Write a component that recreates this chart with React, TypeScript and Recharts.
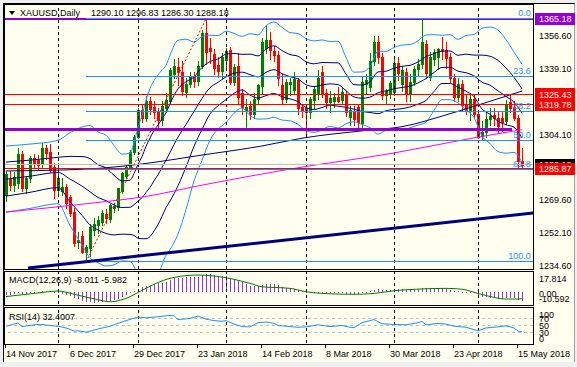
import React from "react";
import { Bar, ComposedChart, Line, ReferenceDot, ReferenceLine, XAxis, YAxis } from "recharts";

const BG = "#FFFFF0";
const BULL = "#008000";
const BEAR = "#FF0000";
const BAND_OUTER = "#1E90FF";
const BAND_INNER = "#000080";
const MAGENTA = "#FF00FF";
const PURPLE = "#9400D3";
const HIST = "#9932CC";
const FONT = "'Liberation Sans', Arial, sans-serif";

// daily bars: index 0 = 14 Nov 2017 ... index 129 = 16 May 2018
const opens = [
  1272, 1280.5, 1277.5, 1278.3, 1294, 1275.6, 1280.9, 1291.5, 1290.6, 1288.8,
  1296.7, 1295, 1287, 1274.7, 1274, 1276.5, 1271.2, 1263.3, 1247.4, 1250.5,
  1242.1, 1243.9, 1253.6, 1256, 1258, 1262, 1259.5, 1265, 1265.9, 1274,
  1282, 1287, 1295, 1303, 1317, 1313, 1322, 1318.5, 1316, 1311.7,
  1318, 1322, 1336, 1339.5, 1337, 1326.5, 1331, 1335, 1332.5, 1340.5,
  1357.5, 1349.5, 1346.5, 1341, 1337.5, 1343.5, 1348.5, 1332, 1340, 1326,
  1317, 1319, 1315, 1323, 1329.5, 1350, 1354, 1348, 1346, 1330,
  1323, 1330.5, 1327.5, 1332.8, 1318.5, 1318, 1316, 1322.5, 1326, 1337,
  1326, 1321, 1321.5, 1324, 1322.3, 1325, 1313.5, 1316, 1318.6, 1310,
  1331, 1329, 1343, 1353, 1345, 1325, 1326, 1326.5, 1342, 1331,
  1337, 1326, 1332, 1338.5, 1341.5, 1352, 1334.5, 1344, 1345, 1349,
  1348.7, 1345, 1334, 1323.9, 1331, 1320, 1317, 1323, 1315, 1303,
  1305.5, 1312, 1314.5, 1313, 1313, 1311, 1321, 1318.5, 1313, 1290.1,
];
const highs = [
  1285, 1285, 1284, 1296.7, 1295.5, 1282, 1292.5, 1294, 1293, 1299.4,
  1298.5, 1299, 1289, 1288.8, 1281, 1278, 1272, 1265, 1252.7, 1253,
  1245.5, 1257, 1260, 1261, 1264, 1264.5, 1267.5, 1268, 1276, 1284,
  1288, 1296, 1304, 1318, 1319.5, 1324.5, 1324, 1322, 1318, 1322,
  1326, 1339, 1344, 1344.5, 1343, 1334, 1337, 1337, 1343, 1359,
  1365.18, 1355, 1349, 1345, 1347, 1350, 1350.5, 1341.5, 1347, 1328,
  1323, 1322, 1326, 1331, 1355, 1361.5, 1358, 1351, 1348, 1336,
  1333.5, 1334, 1337, 1334, 1320, 1320, 1324, 1329.5, 1338, 1340.5,
  1328, 1327, 1326, 1329, 1329, 1327, 1319, 1319, 1320, 1335,
  1336, 1347, 1356, 1356, 1347, 1328, 1332.5, 1344, 1345, 1340,
  1339, 1336, 1340.5, 1344, 1365, 1354, 1347.5, 1349, 1350, 1355.5,
  1353, 1347, 1336, 1334, 1333, 1325.5, 1326, 1325, 1316, 1311,
  1316, 1318, 1318, 1316, 1316.5, 1322.5, 1325, 1322, 1314.5, 1296.83,
];
const lows = [
  1269, 1275, 1274, 1276, 1274, 1273, 1279, 1287, 1286, 1287,
  1291, 1284, 1270.3, 1272, 1272, 1265, 1261, 1245, 1243.9, 1241.5,
  1236.7, 1240, 1251, 1252, 1256, 1257.5, 1258, 1263, 1264, 1273,
  1281, 1286, 1294, 1302, 1310.5, 1311, 1315, 1313, 1307, 1309,
  1316, 1320, 1334, 1330, 1325, 1324, 1329, 1329, 1330, 1339,
  1341.5, 1342, 1336, 1334.5, 1334, 1338, 1330.5, 1330, 1320, 1315,
  1307.2, 1312, 1313, 1320, 1326, 1347, 1344, 1343, 1330, 1320,
  1321, 1325, 1326, 1315, 1313.5, 1302.5, 1313, 1318, 1323, 1324,
  1318, 1316, 1318.5, 1321, 1320, 1314, 1309, 1309, 1308, 1308,
  1326, 1327, 1341, 1342, 1323, 1320.5, 1323.5, 1325, 1333, 1327,
  1322, 1322, 1330, 1335, 1339, 1334, 1333, 1341, 1338.5, 1344,
  1339, 1332, 1322, 1321.5, 1317, 1315, 1311.5, 1313, 1302, 1301.5,
  1303, 1309, 1309, 1305.5, 1306, 1309.5, 1316, 1311.5, 1286.5, 1286.3,
];
const closes = [
  1283, 1277.5, 1281.7, 1294, 1275.6, 1280.9, 1291.5, 1289, 1287.9, 1296.7,
  1294.1, 1285.3, 1274.7, 1280.9, 1276.5, 1267.7, 1262.4, 1247, 1248.3, 1242.1,
  1244.8, 1255.4, 1257, 1259, 1262.4, 1259.8, 1266.8, 1266.5, 1275.6, 1283.5,
  1287, 1295, 1302.9, 1317, 1313, 1322, 1317.5, 1316, 1311.7, 1319,
  1322.3, 1338, 1340, 1337, 1327, 1331, 1335, 1332.5, 1340.5, 1357.5,
  1347.5, 1348, 1339, 1337.5, 1344.8, 1348, 1332, 1339.5, 1324, 1318.5,
  1318.8, 1315, 1323, 1330, 1353, 1354, 1348.7, 1346, 1334, 1323,
  1331.8, 1331.8, 1333.6, 1318, 1317, 1316, 1323, 1328, 1334, 1326,
  1321, 1323.5, 1323.8, 1322, 1326.4, 1316, 1317, 1312, 1310.6, 1332,
  1333, 1343, 1353, 1345, 1325, 1326.8, 1331, 1342, 1336.5, 1338,
  1326, 1332, 1338.5, 1341.5, 1353, 1336.5, 1345, 1347.5, 1349, 1348,
  1344.5, 1334, 1323.9, 1331, 1319.5, 1317, 1323, 1315, 1302.7, 1305.5,
  1312, 1314, 1313, 1308.5, 1310.5, 1320, 1318, 1312.7, 1290, 1288.18,
];

// bollinger envelopes at these bar indexes
const bandIdx = [
  0, 6, 13, 16, 19, 21, 23, 25, 27, 29, 31, 32, 33, 34, 35, 36, 37, 38, 39, 40, 41, 43,
  45, 47, 49, 51, 53, 55, 57, 59, 61, 63, 65, 67, 69, 71, 73, 75, 77, 79, 81, 83, 85,
  87, 89, 91, 93, 95, 97, 99, 101, 103, 105, 107, 109, 111, 113, 115, 117, 119, 121,
  123, 125, 127, 129,
];
const bandUpper2 = [
  1298, 1299, 1301, 1305, 1308, 1308.8, 1305.4, 1303.7, 1298.3, 1293.7, 1294.2, 1299.8,
  1307.8, 1314.1, 1322.2, 1328.3, 1332.6, 1335.5, 1338.2, 1340.5, 1346, 1353.8, 1354.4,
  1352.9, 1355.8, 1356.5, 1356.3, 1358.6, 1357.5, 1355.9, 1357.3, 1356.7, 1361.5, 1363.5,
  1360.7, 1357.9, 1357.4, 1354.7, 1353.5, 1354, 1353.2, 1353.3, 1344.7, 1337, 1337.1,
  1340, 1348, 1348, 1350, 1351.3, 1351.6, 1353.6, 1356.6, 1356.8, 1356.5, 1356.8, 1354.3,
  1356.4, 1356.9, 1360.2, 1360.8, 1359.2, 1354.2, 1347.6, 1341.1,
];
const bandUpper1 = [
  1289.5, 1290.5, 1292, 1292.5, 1292.4, 1291.3, 1288.1, 1286.4, 1282.5, 1279.6, 1279.9,
  1283.4, 1288.3, 1292.4, 1297.8, 1302.2, 1306.1, 1309.1, 1312.4, 1315.5, 1320.3, 1328.2,
  1331.9, 1334.5, 1339.5, 1342.6, 1344, 1346.5, 1346.9, 1346.4, 1346.5, 1345.6, 1349.2,
  1350.9, 1348.4, 1346.3, 1345.4, 1342.5, 1341.4, 1342.1, 1342, 1341.9, 1336, 1330.4,
  1330.2, 1331.9, 1337.1, 1337.5, 1339.1, 1340.1, 1340.6, 1342.4, 1345.1, 1346.8, 1348,
  1348.2, 1345.9, 1346.5, 1346, 1346, 1345.4, 1343.2, 1339.2, 1334.3, 1328.1,
];
const bandMiddle = [
  1280.5, 1282, 1284, 1280.5, 1276.8, 1273.8, 1270.8, 1269.1, 1266.8, 1265.5, 1265.6,
  1267, 1268.8, 1270.7, 1273.4, 1276.1, 1279.6, 1282.8, 1286.6, 1290.5, 1294.6, 1302.7,
  1309.4, 1316.2, 1323.1, 1328.8, 1331.6, 1334.5, 1336.4, 1337, 1335.7, 1334.5, 1336.9,
  1338.3, 1336.2, 1334.6, 1333.4, 1330.4, 1329.4, 1330.2, 1330.8, 1330.4, 1327.2, 1323.9,
  1323.2, 1323.8, 1326.1, 1327.1, 1328.2, 1328.9, 1329.6, 1331.3, 1333.6, 1336.8, 1339.5,
  1339.6, 1337.5, 1336.7, 1335, 1331.7, 1330.1, 1327.1, 1324.2, 1321.1, 1315.2,
];
const bandLower1 = [
  1271.5, 1273.5, 1276, 1268.5, 1261.3, 1256.3, 1253.6, 1251.8, 1251, 1251.4, 1251.3,
  1250.7, 1249.3, 1249, 1249, 1250.1, 1253.1, 1256.4, 1260.8, 1265.4, 1268.9, 1277,
  1286.9, 1297.8, 1306.7, 1314.9, 1319.2, 1322.5, 1325.8, 1327.6, 1324.9, 1323.3, 1324.6,
  1325.7, 1324, 1322.9, 1321.4, 1318.3, 1317.3, 1318.3, 1319.6, 1319, 1318.4, 1317.4,
  1316.2, 1315.7, 1315.1, 1316.6, 1317.3, 1317.7, 1318.6, 1320.1, 1322.1, 1326.8, 1331,
  1331, 1329.1, 1326.9, 1324.1, 1317.5, 1314.7, 1311.1, 1309.2, 1307.9, 1302.2,
];
const bandLower2 = [
  1263, 1265, 1267.5, 1256, 1245.7, 1238.9, 1236.3, 1234.6, 1235.2, 1237.3, 1237,
  1234.3, 1229.8, 1227.3, 1224.6, 1224, 1226.6, 1230, 1235, 1240.4, 1243.2, 1251.5,
  1264.4, 1279.5, 1290.4, 1301.1, 1306.9, 1310.4, 1315.3, 1318.1, 1314.1, 1312.2, 1312.3,
  1313.1, 1311.7, 1311.3, 1309.4, 1306.1, 1305.2, 1306.4, 1308.4, 1307.5, 1309.7, 1310.8,
  1309.3, 1307.6, 1304.2, 1306.2, 1306.4, 1306.5, 1307.6, 1309, 1310.6, 1316.8, 1322.5,
  1322.4, 1320.7, 1317, 1313.1, 1303.2, 1299.3, 1295, 1294.2, 1294.6, 1289.2,
];

// slow moving averages (navy and magenta)
const navyMaIdx = [0, 14, 24, 34, 49, 64, 74, 90, 99, 110, 118, 129];
const navyMa = [1284.8, 1285.3, 1286.3, 1288.5, 1293.2, 1298, 1302.1, 1306.2, 1308.2, 1314.4, 1319.6, 1327];
const magentaMaIdx = [0, 24, 34, 49, 71, 97, 118, 129];
const magentaMa = [1263.1, 1268.4, 1271, 1277.3, 1285.8, 1294.3, 1302.7, 1306.6];

// drawn objects
const fibIdx = [20, 50];
const fibPrice = [1236.7, 1365.18];
const fibLevels = ["0.0", "23.6", "38.2", "50.0", "61.8", "100.0"];
const fibLevelPrice = [1365.18, 1334.86, 1316.1, 1300.94, 1285.78, 1236.7];
const trendIdx = [5.5, 131.75];
const trendPrice = [1233.5, 1262.6];
const supportIdx = [-0.5, 126.5];
const supportPrice = 1306.5;
const redLevels = [1325.43, 1319.78, 1285.87];
const bidPrice = 1288.18;
const topLevel = 1365.18;

const priceTicks = [1356.6, 1339.1, 1304.1, 1269.6, 1252.1, 1234.6];
const markLevels = [1365.18, 1325.43, 1319.78, 1288.18, 1285.87];
const markColors = [PURPLE, BEAR, BEAR, "#000000", BEAR];

const monthIdx = [13, 33, 55, 75, 97, 118];
const dateIdx = [0, 16, 32, 48, 64, 80, 96, 112, 128];
const dateLabels = [
  "14 Nov 2017", "6 Dec 2017", "29 Dec 2017", "23 Jan 2018", "14 Feb 2018",
  "8 Mar 2018", "30 Mar 2018", "23 Apr 2018", "15 May 2018",
];

// MACD(12,26,9): main as histogram, signal as line
const macdHist = [
  -2.5, -2.3, -2.0, -1.0, -1.5, -1.3, -0.6, 0.0, 0.3, 1.0, 1.2, 0.8, -0.5, -0.8,
  -1.5, -2.5, -3.5, -5.2, -6.5, -7.8, -8.8, -9.2, -9.3, -9.2, -8.8, -8.4, -7.8, -7.0, -5.8, -4.2, -2.4, -0.6,
  1.2, 3.0, 4.2, 5.6, 6.6, 7.4, 7.8, 8.4, 9.0, 10.8,
  12.2, 12.8, 12.8, 13.0, 13.3, 13.4, 13.8, 15.2, 15.6, 15.6, 15.0, 14.4, 14.2, 14.0, 12.6, 12.0,
  10.4, 8.6, 7.2, 5.8, 5.2, 5.0, 6.4, 7.2, 7.4, 7.2, 6.0, 4.6, 3.8, 3.4,
  2.8, 2.0, 1.2, 0.4, -0.2, -0.4, -0.5, -0.6, -0.8, -1.0, -1.0, -1.2, -1.2, -1.4, -1.6, -1.8, -2.0, -1.0, -0.2, 0.6,
  2.2, 2.6, 2.0, 1.6, 1.4, 2.2, 2.4, 2.6, 2.2, 2.2, 2.4, 3.0, 3.6, 3.3, 3.4, 3.5, 3.7, 3.6, 3.1, 2.2, 1.2, 0.6, 0.2, -0.4, -0.6, -1.2,
  -3.2, -4.2, -4.5, -4.9, -5.2, -5.8, -6.0, -5.6, -5.3, -5.5, -6.6, -8.011,
];
const signalIdx = [0, 7, 13, 18, 22, 26, 30, 34, 38, 42, 48, 55, 61, 64, 71, 75, 79, 87, 92, 97, 103, 110, 114, 118, 122, 125, 128, 129];
const signalVal = [-4.0, -1.2, 0.9, -2.8, -6.0, -8.6, -5.6, 1.5, 8.5, 13.0, 15.1, 12.7, 7.7, 4.7, 3.3, 0.3, -1.2, -2.0, -1.2, 1.2, 2.6, 3.3, 2.5, -1.2, -4.7, -6.2, -6.2, -5.982];
const macdTicks = [17.814, 0, -10.592];
const macdTickLabels = ["17.814", "0.00", "-10.592"];

// RSI(14)
const rsiIdx = [
  0, 3, 4, 7, 9, 11, 13, 15, 17, 18, 20, 23, 26, 29, 32, 33, 35, 38, 41, 42, 43, 46, 48, 50,
  52, 54, 55, 57, 59, 61, 63, 65, 67, 68, 70, 73, 75, 78, 81, 84, 86, 87, 89, 91, 92, 94, 97,
  100, 103, 104, 105, 108, 110, 112, 115, 118, 120, 123, 125, 127, 128, 129,
];
const rsiVal = [
  48, 57, 47, 52, 53, 50, 48, 43, 34, 35, 31, 40, 48, 60, 71, 74, 72, 75, 79, 78, 67, 70, 77, 68,
  64, 62, 64, 54, 47, 46, 58, 60, 56, 50, 48, 45, 46, 52, 47, 50, 45, 44, 58, 64, 67, 55, 53,
  52, 58, 62, 52, 56, 54, 48, 45, 35, 43, 46, 49, 43, 34, 32.4,
];
const rsiTicks = [100, 70, 50, 30, 0];
const rsiLevels = [70, 50, 30];

const X_DOMAIN: [number, number] = [-0.5, 131.75];

const mainRows: any[] = opens.map((o, i) => ({
  i, o, h: highs[i], l: lows[i], c: closes[i], range: [lows[i], highs[i]],
}));
bandIdx.forEach((b, k) => {
  Object.assign(mainRows[b], {
    up2: bandUpper2[k], up1: bandUpper1[k], mid: bandMiddle[k], lo1: bandLower1[k], lo2: bandLower2[k],
  });
});
navyMaIdx.forEach((b, k) => { mainRows[b].navyMa = navyMa[k]; });
magentaMaIdx.forEach((b, k) => { mainRows[b].magMa = magentaMa[k]; });

const macdRows: any[] = macdHist.map((v, i) => ({ i, hist: v }));
signalIdx.forEach((b, k) => { macdRows[b].signal = signalVal[k]; });

const rsiRows = rsiIdx.map((i, k) => ({ i, rsi: rsiVal[k] }));

const Candle = (props: any) => {
  const { x, y, width, height, payload } = props;
  if (!payload || height == null) return null;
  const { o, h, l, c } = payload;
  const k = height / (h - l || 1);
  const cx = Math.round(x + width / 2);
  const yo = y + (h - o) * k;
  const yc = y + (h - c) * k;
  const col = c >= o ? BULL : BEAR;
  const top = Math.round(Math.min(yo, yc));
  const bot = Math.round(Math.max(yo, yc));
  const wt = Math.round(y);
  const wb = Math.round(y + height);
  return (
    <g shapeRendering="crispEdges">
      <rect x={cx} y={wt} width={1} height={Math.max(1, wb - wt + 1)} fill={col} />
      <rect x={cx - 1} y={top} width={3} height={Math.max(1, bot - top + 1)} fill={col} />
    </g>
  );
};

const HistBar = (props: any) => {
  const { x, y, width, height } = props;
  if (height == null) return null;
  const cx = Math.round(x + width / 2);
  const top = Math.round(Math.min(y, y + height));
  const bot = Math.round(Math.max(y, y + height));
  return <rect x={cx} y={top} width={1} height={Math.max(1, bot - top)} fill={HIST} shapeRendering="crispEdges" />;
};

const priceTick = (props: any) => {
  const { x, y, payload } = props;
  const v = payload.value;
  const m = markLevels.indexOf(v);
  if (m >= 0) {
    return (
      <g>
        <rect x={x + 2} y={Math.round(y) - 6} width={40} height={12} fill={markColors[m]} />
        <text x={x + 6} y={y + 3.5} fill="#FFFFFF" fontSize={9} fontFamily={FONT}>{v.toFixed(2)}</text>
      </g>
    );
  }
  return (
    <text x={x + 6} y={y + 3.5} fill="#000" fontSize={9} fontFamily={FONT}>{v.toFixed(2)}</text>
  );
};

const macdTick = (props: any) => {
  const { x, y, payload } = props;
  const k = macdTicks.indexOf(payload.value);
  const dy = k === 0 ? 10 : k === 2 ? -2 : 4.5;
  return <text x={x + 6} y={y + dy} fill="#000" fontSize={9} fontFamily={FONT}>{macdTickLabels[k]}</text>;
};

const rsiTick = (props: any) => {
  const { x, y, payload } = props;
  const v = payload.value;
  const dy = v === 100 ? 10 : v === 0 ? -1.5 : 3.5;
  return <text x={x + 6} y={y + dy} fill="#000" fontSize={9} fontFamily={FONT}>{v}</text>;
};

const dateTick = (props: any) => {
  const { x, y, payload } = props;
  const k = dateIdx.indexOf(payload.value);
  return (
    <g>
      <rect x={Math.round(x) - 1} y={y + 1} width={1} height={4} fill="#000" shapeRendering="crispEdges" />
      <text x={x} y={y + 14} fill="#000" fontSize={9} fontFamily={FONT}>{dateLabels[k]}</text>
    </g>
  );
};

const fibLabel = (text: string) => (p: any) => (
  <text x={p.cx} y={p.cy - 2.5} textAnchor="end" fill={BAND_OUTER} fontSize={9} fontFamily={FONT}>{text}</text>
);

const monthLines = () =>
  monthIdx.map((m) => (
    <ReferenceLine key={"m" + m} x={m} stroke="#000" strokeDasharray="3 3" shapeRendering="crispEdges" />
  ));

const bandLine = (key: string, color: string) => (
  <Line key={key} dataKey={key} type="monotone" stroke={color} strokeWidth={1} dot={false}
    connectNulls isAnimationActive={false} />
);

function MainPanel() {
  return (
    <ComposedChart width={577} height={268} data={mainRows} margin={{ top: 0, right: 0, bottom: 3, left: 4 }}>
      <XAxis dataKey="i" type="number" domain={X_DOMAIN} allowDataOverflow hide />
      <YAxis orientation="right" width={44} type="number" domain={[1233, 1373]} allowDataOverflow
        ticks={[...priceTicks, ...markLevels]} interval={0} tick={priceTick}
        axisLine={false} tickLine={false} tickSize={0} tickMargin={0} />
      {monthLines()}
      <Bar dataKey="range" barSize={3} shape={Candle} isAnimationActive={false} />
      {bandLine("up2", BAND_OUTER)}
      {bandLine("lo2", BAND_OUTER)}
      {bandLine("up1", BAND_INNER)}
      {bandLine("mid", BAND_INNER)}
      {bandLine("lo1", BAND_INNER)}
      {bandLine("navyMa", BAND_INNER)}
      {bandLine("magMa", MAGENTA)}
      <ReferenceLine y={bidPrice} stroke="#C0C0C0" shapeRendering="crispEdges" />
      {redLevels.map((v) => (
        <ReferenceLine key={"r" + v} y={v} stroke={BEAR} shapeRendering="crispEdges" />
      ))}
      <ReferenceLine y={topLevel} stroke={PURPLE} strokeWidth={2} shapeRendering="crispEdges" />
      <ReferenceLine ifOverflow="hidden" stroke={PURPLE} strokeWidth={3} shapeRendering="crispEdges"
        segment={[{ x: supportIdx[0], y: supportPrice }, { x: supportIdx[1], y: supportPrice }]} />
      {fibLevelPrice.map((v, k) => (
        <ReferenceLine key={"f" + k} ifOverflow="hidden" stroke={BAND_OUTER} shapeRendering="crispEdges"
          segment={[{ x: fibIdx[0], y: v }, { x: X_DOMAIN[1], y: v }]} />
      ))}
      <ReferenceLine ifOverflow="hidden" stroke={BEAR} strokeDasharray="2 2"
        segment={[{ x: fibIdx[0], y: fibPrice[0] }, { x: fibIdx[1], y: fibPrice[1] }]} />
      <ReferenceLine ifOverflow="hidden" stroke={BAND_INNER} strokeWidth={3}
        segment={[{ x: trendIdx[0], y: trendPrice[0] }, { x: trendIdx[1], y: trendPrice[1] }]} />
      {fibLevels.map((t, k) => (
        <ReferenceDot key={"fl" + k} x={131.2} y={fibLevelPrice[k]} r={0} ifOverflow="visible" shape={fibLabel(t)} />
      ))}
    </ComposedChart>
  );
}

function MacdPanel() {
  return (
    <ComposedChart width={577} height={32} data={macdRows} margin={{ top: 0, right: 0, bottom: 0, left: 4 }}>
      <XAxis dataKey="i" type="number" domain={X_DOMAIN} allowDataOverflow hide />
      <YAxis orientation="right" width={44} type="number" domain={[-10.592, 17.814]} allowDataOverflow
        ticks={macdTicks} interval={0} tick={macdTick} axisLine={false} tickLine={false} tickSize={0} tickMargin={0} />
      {monthLines()}
      <Bar dataKey="hist" barSize={1} shape={HistBar} isAnimationActive={false} />
      <Line dataKey="signal" type="monotone" stroke={BULL} strokeWidth={1} dot={false} connectNulls isAnimationActive={false} />
    </ComposedChart>
  );
}

function RsiPanel() {
  return (
    <ComposedChart width={577} height={53} data={rsiRows} margin={{ top: 0, right: 0, bottom: 0, left: 4 }}>
      <XAxis dataKey="i" type="number" domain={X_DOMAIN} allowDataOverflow ticks={dateIdx} interval={0}
        tick={dateTick} axisLine={false} tickLine={false} tickSize={0} tickMargin={0} height={18} />
      <YAxis orientation="right" width={44} type="number" domain={[0, 100]} allowDataOverflow
        ticks={rsiTicks} interval={0} tick={rsiTick} axisLine={false} tickLine={false} tickSize={0} tickMargin={0} />
      {rsiLevels.map((v) => (
        <ReferenceLine key={"l" + v} y={v} stroke="#C0C0C0" strokeDasharray="3 3" shapeRendering="crispEdges" />
      ))}
      {monthLines()}
      <Line dataKey="rsi" type="linear" stroke={BAND_OUTER} strokeWidth={1} dot={false} connectNulls isAnimationActive={false} />
    </ComposedChart>
  );
}

const frame = (top: number, height: number): React.CSSProperties => ({
  position: "absolute", left: 4, top, width: 530, height, border: "1px solid #000",
  boxSizing: "border-box", pointerEvents: "none",
});

export default function App() {
  return (
    <div style={{ position: "absolute", left: 0, top: 0, width: 577, height: 367, background: "#F0F0F0", overflow: "hidden", fontFamily: FONT }}>
      <div style={{ position: "absolute", left: 3, top: 3, width: 572, height: 359, background: BG, borderLeft: "1px solid #000", borderTop: "1px solid #000", borderRight: "1px solid #A0A0A0", boxSizing: "border-box" }} />
      <div style={{ position: "absolute", left: 0, top: 4 }}><MainPanel /></div>
      <div style={{ position: "absolute", left: 0, top: 272 }}><MacdPanel /></div>
      <div style={{ position: "absolute", left: 0, top: 308 }}><RsiPanel /></div>
      <div style={frame(4, 266)} />
      <div style={frame(271, 35)} />
      <div style={frame(307, 38)} />
      <svg width={577} height={367} style={{ position: "absolute", left: 0, top: 0, pointerEvents: "none" }}>
        <polygon points="9,11 15,11 12,15" fill="#000" />
        <text x={20} y={16} fontSize={9} fontFamily={FONT} fill="#000">XAUUSD,Daily</text>
        <text x={91} y={16} fontSize={9} fontFamily={FONT} fill="#000">1290.10 1296.83 1286.30 1288.18</text>
        <text x={9} y={283} fontSize={9} fontFamily={FONT} fill="#000">MACD(12,26,9) -8.011 -5.982</text>
        <text x={9} y={320} fontSize={9} fontFamily={FONT} fill="#000">RSI(14) 32.4007</text>
      </svg>
    </div>
  );
}
